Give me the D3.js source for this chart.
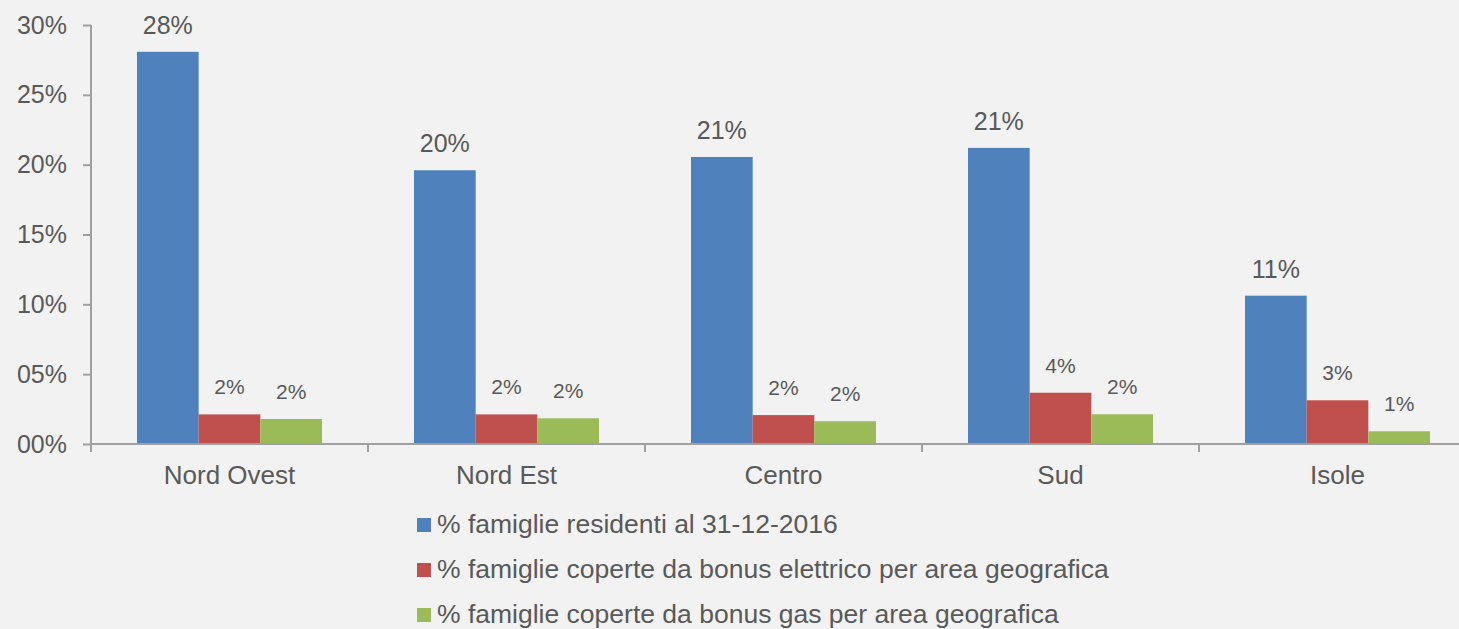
<!DOCTYPE html>
<html>
<head>
<meta charset="utf-8">
<script src="https://cdn.jsdelivr.net/npm/d3@7"></script>
<style>
  html, body { margin: 0; padding: 0; background: #f2f2f2; }
  svg { display: block; font-family: "Liberation Sans", Arial, sans-serif; }
</style>
</head>
<body>
<div id="chart"></div>
<script>
// Categories and series values (fractions)
const categories = ["Nord Ovest", "Nord Est", "Centro", "Sud", "Isole"];
const seriesNames = [
    "% famiglie residenti al 31-12-2016",
    "% famiglie coperte da bonus elettrico per area geografica",
    "% famiglie coperte da bonus gas per area geografica"
];
const residenti = [0.2808, 0.196, 0.2055, 0.212, 0.1062];
const bonusElettrico = [0.0212, 0.0212, 0.0207, 0.0367, 0.0313];
const bonusGas = [0.0179, 0.0184, 0.0163, 0.0213, 0.0091];
const yTicks = [0, 0.05, 0.10, 0.15, 0.20, 0.25, 0.30];
const colors = ["#4f81bd", "#c0504d", "#9bbb59"];

const W = 1459, H = 629;
const margin = { left: 91, top: 25 };
const plotBottom = 444;
const step = 277;

const svg = d3.select("#chart").append("svg")
    .attr("width", W)
    .attr("height", H)
    .style("background", "#f2f2f2");

const x = d3.scaleBand()
    .domain(categories)
    .range([margin.left, margin.left + step * categories.length])
    .padding(0);

const xs = d3.scaleBand()
    .domain(d3.range(seriesNames.length))
    .range([46, step - 46]);

const y = d3.scaleLinear()
    .domain([0, 0.30])
    .range([plotBottom, margin.top]);

const allSeries = [residenti, bonusElettrico, bonusGas];
const rows = categories.map((c, i) => ({
    cat: c,
    vals: allSeries.map((s, k) => ({ k: k, v: s[i] }))
}));

// y axis
const yAxis = svg.append("g")
    .attr("transform", `translate(${margin.left},0)`)
    .call(d3.axisLeft(y).tickValues(yTicks).tickFormat(d3.format("03.0%")).tickSize(8).tickPadding(16));
yAxis.select(".domain").attr("stroke", "#a0a0a0").attr("stroke-width", 2)
    .attr("d", `M0,${margin.top}V${plotBottom}`);
yAxis.selectAll(".tick line").attr("stroke", "#a0a0a0").attr("stroke-width", 2);
yAxis.selectAll(".tick text")
    .attr("fill", "#595959")
    .style("font-size", "25px");

// bars
const groups = svg.selectAll(".grp")
    .data(rows)
    .enter().append("g")
    .attr("class", "grp")
    .attr("transform", d => `translate(${x(d.cat)},0)`);

groups.selectAll("rect")
    .data(d => d.vals)
    .enter().append("rect")
    .attr("x", d => xs(d.k))
    .attr("width", xs.bandwidth())
    .attr("y", d => y(d.v))
    .attr("height", d => plotBottom - y(d.v))
    .attr("fill", d => colors[d.k]);

groups.selectAll("text")
    .data(d => d.vals)
    .enter().append("text")
    .attr("x", d => xs(d.k) + xs.bandwidth() / 2)
    .attr("y", d => y(d.v) - (d.k === 0 ? 18 : 20))
    .attr("text-anchor", "middle")
    .attr("fill", "#595959")
    .style("font-size", d => d.k === 0 ? "25px" : "21px")
    .text(d => Math.round(d.v * 100) + "%");

// x axis
const xAxis = svg.append("g")
    .attr("transform", `translate(0,${plotBottom})`);
xAxis.append("line")
    .attr("x1", margin.left).attr("x2", W)
    .attr("stroke", "#a0a0a0").attr("stroke-width", 2);
xAxis.selectAll(".btick")
    .data(categories)
    .enter().append("line")
    .attr("class", "btick")
    .attr("x1", d => x(d)).attr("x2", d => x(d))
    .attr("y1", 0).attr("y2", 8)
    .attr("stroke", "#a0a0a0").attr("stroke-width", 2);
xAxis.selectAll(".clabel")
    .data(categories)
    .enter().append("text")
    .attr("class", "clabel")
    .attr("x", d => x(d) + x.bandwidth() / 2)
    .attr("y", 40)
    .attr("text-anchor", "middle")
    .attr("fill", "#595959")
    .style("font-size", "26px")
    .text(d => d);

// legend
const legend = svg.append("g")
    .attr("transform", "translate(417,533)");
const items = legend.selectAll("g")
    .data(seriesNames)
    .enter().append("g")
    .attr("transform", (d, i) => `translate(0,${i * 45})`);
items.append("rect")
    .attr("x", 0).attr("y", -15)
    .attr("width", 14).attr("height", 14)
    .attr("fill", (d, i) => colors[i]);
items.append("text")
    .attr("x", 20)
    .attr("fill", "#595959")
    .style("font-size", "26.5px")
    .text(d => d);
</script>
</body>
</html>
